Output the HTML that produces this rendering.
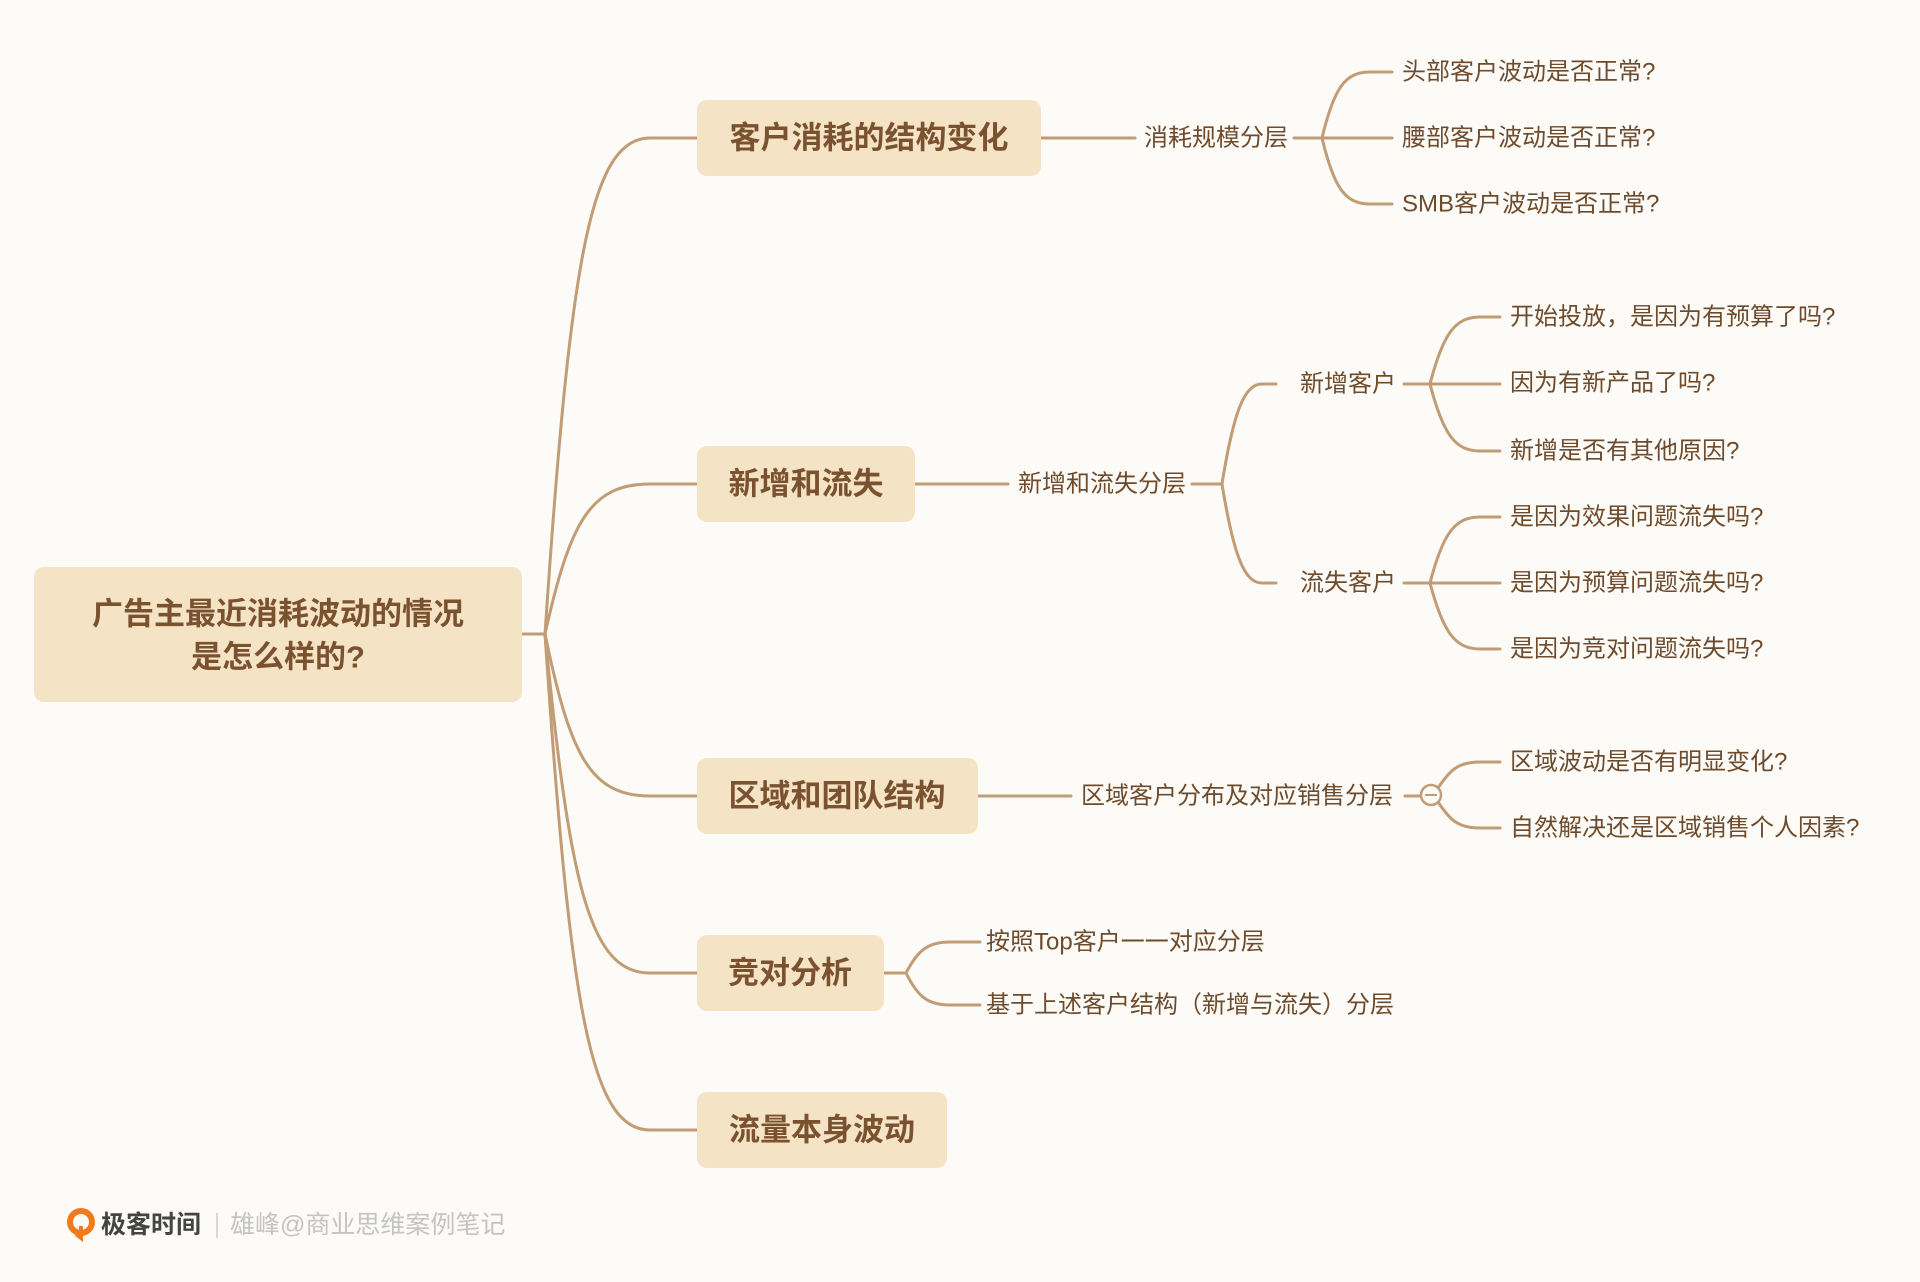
<!DOCTYPE html>
<html><head><meta charset="utf-8"><style>
html,body{margin:0;padding:0;background:#fdfbf7;}
svg{display:block;}
text{font-family:"Liberation Sans","Noto Sans CJK SC",sans-serif;}
.b{font-size:31px;font-weight:bold;fill:#7b5230;}
.t{font-size:24px;fill:#6e4b2c;}
</style></head><body>
<svg width="1920" height="1282" viewBox="0 0 1920 1282" xmlns="http://www.w3.org/2000/svg">
<rect width="1920" height="1282" fill="#fdfbf7"/>
<g fill="none" stroke="#c29c74" stroke-width="3" stroke-linecap="round">
<path d="M522 634 L545 634"/>
<path d="M545 634 C570 262 590 138 650 138 L697 138"/>
<path d="M545 634 C570 522 590 484 650 484 L697 484"/>
<path d="M545 634 C570 755 590 796 650 796 L697 796"/>
<path d="M545 634 C570 888 590 973 650 973 L697 973"/>
<path d="M545 634 C570 1006 590 1130 650 1130 L697 1130"/>
<path d="M1041 138 L1135 138"/>
<path d="M1294 138 L1322 138"/>
<path d="M1322 138 C1334 88 1345 72 1370 72 L1392 72"/>
<path d="M1322 138 L1392 138"/>
<path d="M1322 138 C1334 188 1345 204 1370 204 L1392 204"/>
<path d="M915 484 L1008 484"/>
<path d="M1192 484 L1222 484"/>
<path d="M1222 484 C1234 409 1245 384 1262 384 L1276 384"/>
<path d="M1222 484 C1234 558 1245 583 1262 583 L1276 583"/>
<path d="M1404 384 L1430 384"/>
<path d="M1430 384 C1443 334 1455 317 1480 317 L1500 317"/>
<path d="M1430 384 L1500 384"/>
<path d="M1430 384 C1443 434 1455 451 1480 451 L1500 451"/>
<path d="M1404 583 L1430 583"/>
<path d="M1430 583 C1443 533 1455 517 1480 517 L1500 517"/>
<path d="M1430 583 L1500 583"/>
<path d="M1430 583 C1443 632 1455 649 1480 649 L1500 649"/>
<path d="M978 796 L1071 796"/>
<path d="M1405 796 L1421 796"/>
<path d="M1438 788 C1450 770 1458 762 1480 762 L1500 762"/>
<path d="M1438 802 C1450 820 1458 828 1480 828 L1500 828"/>
<path d="M884 973 L906 973"/>
<path d="M906 973 C918 950 928 942 950 942 L980 942"/>
<path d="M906 973 C918 997 928 1005 950 1005 L980 1005"/>
</g>
<circle cx="1431" cy="795" r="10" fill="#fdfbf7" stroke="#c29c74" stroke-width="2.5"/>
<line x1="1425" y1="795" x2="1437" y2="795" stroke="#c29c74" stroke-width="2"/>

<g fill="#f5e3c6">
<rect x="34" y="567" width="488" height="135" rx="10"/>
<rect x="697" y="100" width="344" height="76" rx="10"/>
<rect x="697" y="446" width="218" height="76" rx="10"/>
<rect x="697" y="758" width="281" height="76" rx="10"/>
<rect x="697" y="935" width="187" height="76" rx="10"/>
<rect x="697" y="1092" width="250" height="76" rx="10"/>
</g>
<g class="b" text-anchor="middle" dominant-baseline="central">
<text x="278" y="614">广告主最近消耗波动的情况</text>
<text x="278" y="657">是怎么样的?</text>
<text x="869" y="138">客户消耗的结构变化</text>
<text x="806" y="484">新增和流失</text>
<text x="837" y="796">区域和团队结构</text>
<text x="790" y="973">竞对分析</text>
<text x="822" y="1130">流量本身波动</text>
</g>
<g class="t" dominant-baseline="central">
<text x="1144" y="138">消耗规模分层</text>
<text x="1402" y="72">头部客户波动是否正常?</text>
<text x="1402" y="138">腰部客户波动是否正常?</text>
<text x="1402" y="204">SMB客户波动是否正常?</text>
<text x="1018" y="484">新增和流失分层</text>
<text x="1300" y="384">新增客户</text>
<text x="1300" y="583">流失客户</text>
<text x="1510" y="317">开始投放，是因为有预算了吗?</text>
<text x="1510" y="383">因为有新产品了吗?</text>
<text x="1510" y="451">新增是否有其他原因?</text>
<text x="1510" y="517">是因为效果问题流失吗?</text>
<text x="1510" y="583">是因为预算问题流失吗?</text>
<text x="1510" y="649">是因为竞对问题流失吗?</text>
<text x="1081" y="796">区域客户分布及对应销售分层</text>
<text x="1510" y="762">区域波动是否有明显变化?</text>
<text x="1510" y="828">自然解决还是区域销售个人因素?</text>
<text x="986" y="942">按照Top客户一一对应分层</text>
<text x="986" y="1005">基于上述客户结构（新增与流失）分层</text>
</g>
<circle cx="81" cy="1222" r="11" fill="none" stroke="#f07a1e" stroke-width="6"/>
<path d="M81 1226 L81 1238 L76 1234" fill="none" stroke="#f07a1e" stroke-width="4"/>
<text x="101" y="1225" dominant-baseline="central" style="font-size:25px;font-weight:bold;fill:#444;">极客时间</text>
<line x1="217" y1="1213" x2="217" y2="1238" stroke="#ccc" stroke-width="1.5"/>
<text x="230" y="1225" dominant-baseline="central" style="font-size:25px;fill:#c4c4c4;">雄峰@商业思维案例笔记</text>
</svg>
</body></html>
